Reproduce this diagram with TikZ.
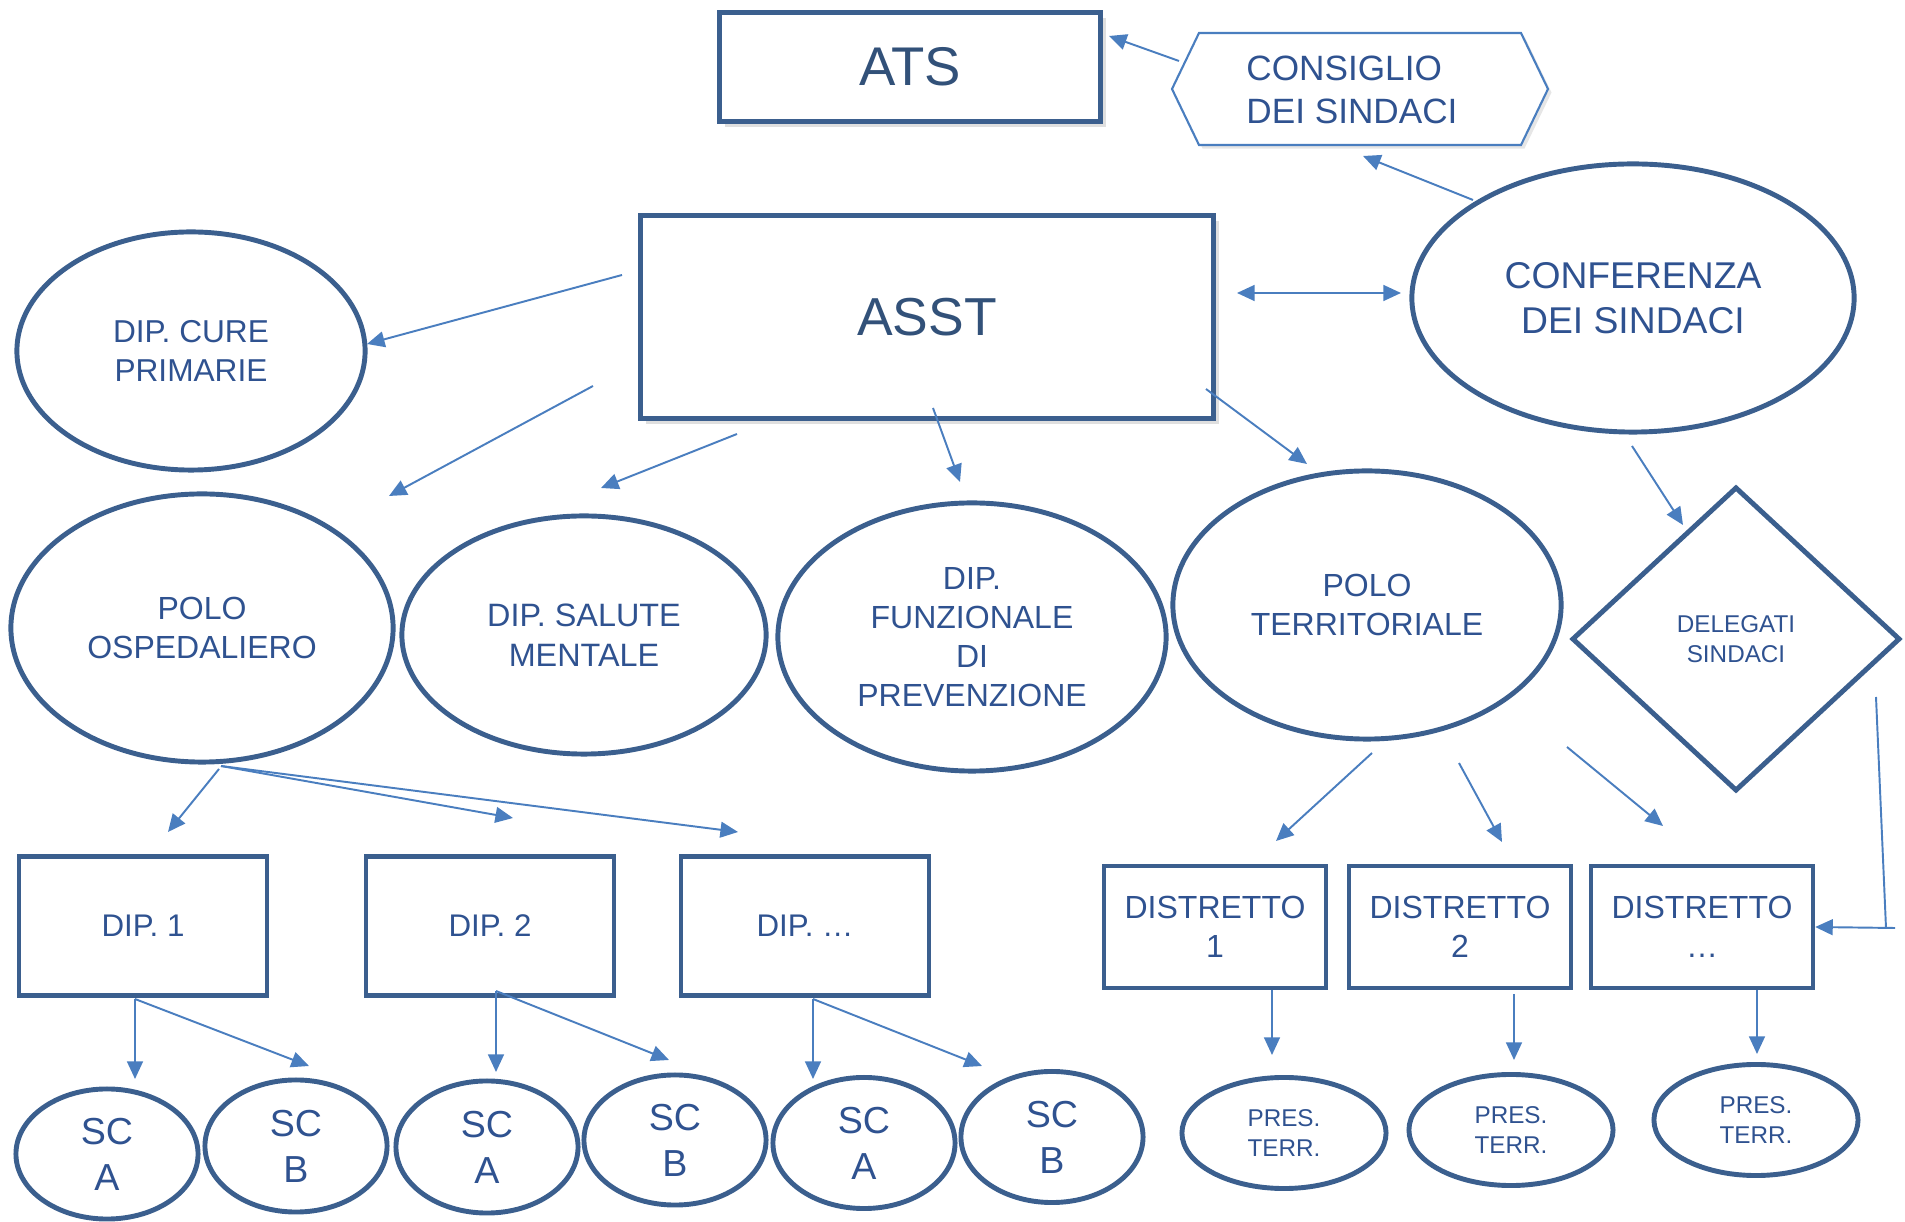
\documentclass[tikz,border=0pt]{standalone}
\usepackage{fontspec}
\setmainfont{Liberation Sans}
\usetikzlibrary{shapes.geometric,arrows.meta,shadows}
\definecolor{edgeblue}{HTML}{3B5F8E}
\definecolor{txtblue}{HTML}{2F5290}
\definecolor{lineblue}{HTML}{4A7EBF}
\newcommand{\fsz}[1]{\fontsize{#1}{1.22\dimexpr #1pt\relax}\selectfont}
\tikzset{
  box/.style={draw=edgeblue, line width=1.2pt, text=txtblue, align=center, inner sep=0pt},
  bigbox/.style={box, fill=white, line width=1.5pt, drop shadow={shadow xshift=1.5pt, shadow yshift=-1.5pt, opacity=0.25}},
  oval/.style={ellipse, draw=edgeblue, line width=1.4pt, text=txtblue, align=center, inner sep=0pt},
  link/.style={draw=lineblue, line width=0.55pt, -{Triangle[length=5pt,width=4.5pt]}},
}
\begin{document}
\begin{tikzpicture}[x=0.01cm,y=-0.01cm]
  \useasboundingbox (0,0) rectangle (1905,1222);
  % top level
  \node[bigbox, minimum width=3.81cm, minimum height=1.09cm, font=\fsz{15.5}, text=edgeblue!85!black] (ats) at (910,67) {ATS};
  \draw[draw=lineblue, line width=0.6pt, fill=white, drop shadow={shadow xshift=1pt, shadow yshift=-1pt, opacity=0.2}]
    (1172,89) -- (1199,33) -- (1521,33) -- (1548,89) -- (1521,145) -- (1199,145) -- cycle;
  \node[text=txtblue, align=left, font=\fsz{10}] (consiglio) at (1352,90) {CONSIGLIO\\DEI SINDACI};
  \node[bigbox, minimum width=5.73cm, minimum height=2.03cm, font=\fsz{15.2}, text=edgeblue!85!black] (asst) at (927,317) {ASST};
  \node[oval, minimum width=4.42cm, minimum height=2.68cm, font=\fsz{10.6}] (conferenza) at (1633,298) {CONFERENZA\\DEI SINDACI};
  \node[oval, minimum width=3.48cm, minimum height=2.38cm, font=\fsz{9}] (cure) at (191,351) {DIP. CURE\\PRIMARIE};
  % second row
  \node[oval, minimum width=3.82cm, minimum height=2.68cm, font=\fsz{9.1}] (ospedaliero) at (202,628) {POLO\\OSPEDALIERO};
  \node[oval, minimum width=3.64cm, minimum height=2.38cm, font=\fsz{9.2}] (salute) at (584,635) {DIP. SALUTE\\MENTALE};
  \node[oval, minimum width=3.88cm, minimum height=2.68cm, font=\fsz{9.1}] (prevenzione) at (972,637) {DIP.\\FUNZIONALE\\DI\\PREVENZIONE};
  \node[oval, minimum width=3.88cm, minimum height=2.68cm, font=\fsz{9.1}] (territoriale) at (1367,605) {POLO\\TERRITORIALE};
  \node[diamond, draw=edgeblue, line width=1.4pt, text=txtblue, align=center, inner sep=0pt,
        minimum width=3.28cm, minimum height=3.04cm, font=\fsz{6.9}] (delegati) at (1736,639) {DELEGATI\\SINDACI};
  % dipartimenti and distretti
  \node[box, minimum width=2.48cm, minimum height=1.39cm, font=\fsz{8.9}] (dip1) at (143,926) {DIP. 1};
  \node[box, minimum width=2.48cm, minimum height=1.39cm, font=\fsz{8.9}] (dip2) at (490,926) {DIP. 2};
  \node[box, minimum width=2.48cm, minimum height=1.39cm, font=\fsz{8.9}] (dip3) at (805,926) {DIP. \dots};
  \node[box, minimum width=2.22cm, minimum height=1.22cm, font=\fsz{9.1}] (distr1) at (1215,927) {DISTRETTO\\1};
  \node[box, minimum width=2.22cm, minimum height=1.22cm, font=\fsz{9.1}] (distr2) at (1460,927) {DISTRETTO\\2};
  \node[box, minimum width=2.22cm, minimum height=1.22cm, font=\fsz{9.1}] (distr3) at (1702,927) {DISTRETTO\\\dots};
  % strutture complesse
  \node[oval, minimum width=1.82cm, minimum height=1.30cm, font=\fsz{10.7}] (sca1) at (107,1154) {SC\\A};
  \node[oval, minimum width=1.82cm, minimum height=1.32cm, font=\fsz{10.7}] (scb1) at (296,1146) {SC\\B};
  \node[oval, minimum width=1.82cm, minimum height=1.32cm, font=\fsz{10.7}] (sca2) at (487,1147) {SC\\A};
  \node[oval, minimum width=1.82cm, minimum height=1.30cm, font=\fsz{10.7}] (scb2) at (675,1140) {SC\\B};
  \node[oval, minimum width=1.82cm, minimum height=1.31cm, font=\fsz{10.7}] (sca3) at (864,1143) {SC\\A};
  \node[oval, minimum width=1.82cm, minimum height=1.31cm, font=\fsz{10.7}] (scb3) at (1052,1137) {SC\\B};
  \node[oval, minimum width=2.04cm, minimum height=1.11cm, font=\fsz{6.9}] (pres1) at (1284,1133) {PRES.\\TERR.};
  \node[oval, minimum width=2.04cm, minimum height=1.11cm, font=\fsz{6.9}] (pres2) at (1511,1130) {PRES.\\TERR.};
  \node[oval, minimum width=2.04cm, minimum height=1.11cm, font=\fsz{6.9}] (pres3) at (1756,1120) {PRES.\\TERR.};
  % free ends of the connectors
  \coordinate (cons-a) at (1179,61);   \coordinate (cons-b) at (1109,36);
  \coordinate (conf-a) at (1473,200);  \coordinate (conf-b) at (1363,156);
  \coordinate (dbl-a) at (1237,293);   \coordinate (dbl-b) at (1401,293);
  \coordinate (cure-a) at (622,275);   \coordinate (cure-b) at (367,344);
  \coordinate (osp-a) at (593,386);    \coordinate (osp-b) at (389,496);
  \coordinate (sal-a) at (737,434);    \coordinate (sal-b) at (601,488);
  \coordinate (prev-a) at (933,408);   \coordinate (prev-b) at (960,482);
  \coordinate (terr-a) at (1206,389);  \coordinate (terr-b) at (1307,464);
  \coordinate (del-a) at (1632,446);   \coordinate (del-b) at (1683,525);
  \coordinate (side-a) at (1876,697);  \coordinate (side-b) at (1886,928);
  \coordinate (side-c) at (1895,928);
  \coordinate (t1-a) at (1372,753);    \coordinate (t1-b) at (1276,841);
  \coordinate (t2-a) at (1459,763);    \coordinate (t2-b) at (1502,842);
  \coordinate (t3-a) at (1567,747);    \coordinate (t3-b) at (1663,826);
  \coordinate (p1-a) at (1272,990);    \coordinate (p1-b) at (1272,1055);
  \coordinate (p2-a) at (1514,994);    \coordinate (p2-b) at (1514,1060);
  \coordinate (p3-a) at (1757,990);    \coordinate (p3-b) at (1757,1054);
  \coordinate (o1-a) at (219,769);     \coordinate (o1-b) at (168,832);
  \coordinate (o-a) at (221,766);      \coordinate (o2-b) at (513,818);
  \coordinate (o3-b) at (738,832);
  \coordinate (d1-a) at (135,999);     \coordinate (d1-b) at (135,1079);  \coordinate (d1-c) at (309,1066);
  \coordinate (d2-a) at (496,991);     \coordinate (d2-b) at (496,1072);  \coordinate (d2-c) at (669,1060);
  \coordinate (d3-a) at (813,999);     \coordinate (d3-b) at (813,1079);  \coordinate (d3-c) at (982,1066);
  % connectors
  \draw[link] (cons-a) -- (cons-b);
  \draw[link] (conf-a) -- (conf-b);
  \draw[link, {Triangle[length=5pt,width=4.5pt]}-{Triangle[length=5pt,width=4.5pt]}] (dbl-a) -- (dbl-b);
  \draw[link] (cure-a) -- (cure-b);
  \draw[link] (osp-a) -- (osp-b);
  \draw[link] (sal-a) -- (sal-b);
  \draw[link] (prev-a) -- (prev-b);
  \draw[link] (terr-a) -- (terr-b);
  \draw[link] (del-a) -- (del-b);
  \draw[draw=lineblue, line width=0.55pt] (side-a) -- (side-b);
  \draw[link] (side-c) -- (distr3.east);
  \draw[link] (t1-a) -- (t1-b);
  \draw[link] (t2-a) -- (t2-b);
  \draw[link] (t3-a) -- (t3-b);
  \draw[link] (p1-a) -- (p1-b);
  \draw[link] (p2-a) -- (p2-b);
  \draw[link] (p3-a) -- (p3-b);
  \draw[link] (o1-a) -- (o1-b);
  \draw[link] (o-a) -- (o2-b);
  \draw[link] (o-a) -- (o3-b);
  \draw[link] (d1-a) -- (d1-b);
  \draw[link] (d1-a) -- (d1-c);
  \draw[link] (d2-a) -- (d2-b);
  \draw[link] (d2-a) -- (d2-c);
  \draw[link] (d3-a) -- (d3-b);
  \draw[link] (d3-a) -- (d3-c);
\end{tikzpicture}
\end{document}
